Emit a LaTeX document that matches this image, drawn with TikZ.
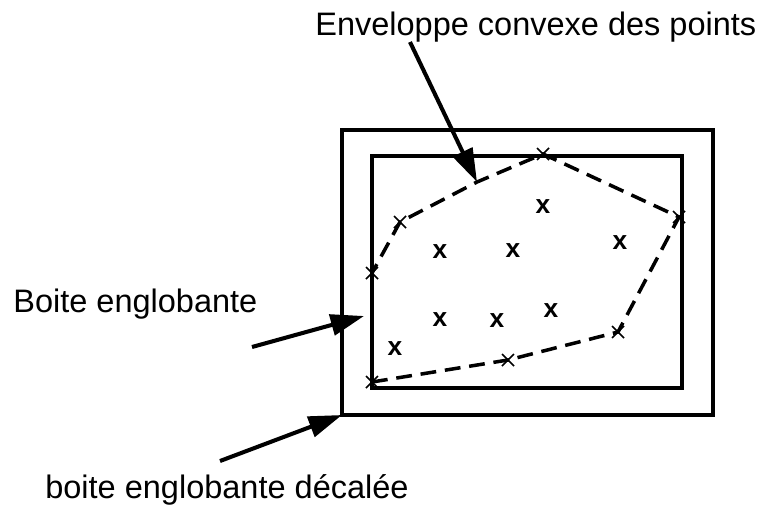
\documentclass[tikz,border=0pt]{standalone}
\usepackage{fontspec}
\setmainfont{Liberation Sans}
\usetikzlibrary{arrows.meta}

\begin{document}
\begin{tikzpicture}[
    x=0.02cm, y=-0.02cm,
    boxline/.style={line width=2.1pt},
    hull/.style={line width=2pt, dash pattern=on 9pt off 5pt},
    arr/.style={-{Triangle[length=19pt, width=12pt]}, line width=2.3pt},
    lbl/.style={anchor=base west, inner sep=0pt, font=\fontsize{18.5}{22}\selectfont},
    pt/.style={inner sep=0pt, font=\fontsize{15}{17}\selectfont\bfseries},
    vmark/.style={line width=0.9pt}
  ]
    \useasboundingbox (0,0) rectangle (763,511);
    % boxes
    \coordinate (outerNW) at (342,130);
    \coordinate (outerSE) at (713,415);
    \coordinate (innerNW) at (372,156);
    \coordinate (innerSE) at (682,388);
    \draw[boxline] (outerNW) rectangle (outerSE);
    \draw[boxline] (innerNW) rectangle (innerSE);
    \coordinate (outerSW) at (342,415);
    % convex hull
    \coordinate (h1) at (372,382);
    \coordinate (h2) at (508,360);
    \coordinate (h3) at (618,332);
    \coordinate (h4) at (679,217);
    \coordinate (h5) at (543,154);
    \coordinate (h6) at (477,182);
    \coordinate (h7) at (400,222);
    \coordinate (h8) at (372,273);
    \draw[hull] (h1) -- (h2) -- (h3) -- (h4) -- (h5) -- (h6) -- (h7) -- (h8) -- cycle;
    \foreach \v in {h1,h2,h3,h4,h5,h7,h8}
      \draw[vmark] ([shift={(-6,-6)}]\v) -- ([shift={(6,6)}]\v)
                   ([shift={(-6,6)}]\v) -- ([shift={(6,-6)}]\v);
    % inner points
    \foreach \px/\py [count=\i] in {543/207, 440/252, 513/251, 620/243, 440/320, 497/321, 551/311, 395/349}
      \node[pt] (p\i) at (\px,\py) {x};
    % labels
    \node[lbl] (env) at (315,35) {Enveloppe convexe des points};
    \node[lbl] (bbox) at (13,312) {Boite englobante};
    \node[lbl] (sbox) at (45,498) {boite englobante décalée};
    % arrows
    \coordinate (a1) at (410,42);
    \coordinate (a2) at (252,347);
    \coordinate (a2tip) at (364,316);
    \coordinate (a3) at (220,461);
    \draw[arr] (a1) -- (h6);
    \draw[arr] (a2) -- (a2tip);
    \draw[arr] (a3) -- (outerSW);
  \end{tikzpicture}
\end{document}
